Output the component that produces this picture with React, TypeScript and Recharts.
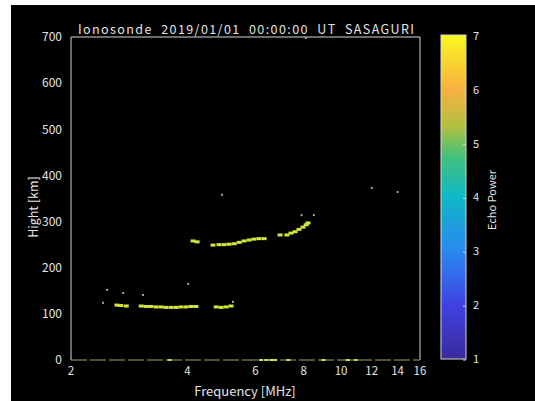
import React from "react";
import { ScatterChart, Scatter, XAxis, YAxis, ReferenceLine } from "recharts";

const FONT = '"Noto Sans CJK JP", "DejaVu Sans", sans-serif';

const freqTicks = [2, 4, 6, 8, 10, 12, 14, 16];
const heightTicks = [0, 100, 200, 300, 400, 500, 600, 700];
const powerTicks = [1, 2, 3, 4, 5, 6, 7];

// E-region echo trace
const eFreq = [2.63, 2.69, 2.78, 3.04, 3.13, 3.22, 3.32, 3.42, 3.52, 3.63, 3.74, 3.85, 3.97, 4.09, 4.21, 4.75, 4.89, 5.04, 5.19];
const eHeight = [119, 118, 117, 117, 116, 116, 115, 115, 114, 114, 114, 115, 115, 116, 116, 115, 114, 115, 117];

// F-region echo trace
const fFreq = [4.14, 4.24, 4.66, 4.83, 4.98, 5.13, 5.29, 5.45, 5.61, 5.78, 5.95, 6.13, 6.32, 6.95, 7.24, 7.42, 7.6, 7.78, 7.97, 8.12, 8.21];
const fHeight = [258, 256, 249, 250, 250, 251, 252, 255, 258, 260, 262, 263, 263, 271, 271, 275, 278, 283, 288, 293, 297];

// isolated weak returns
const noiseFreq = [2.42, 2.48, 2.73, 3.07, 4.02, 5.25, 4.92, 7.9, 8.5, 12.0, 14.0, 8.1];
const noiseHeight = [124, 152, 145, 141, 165, 126, 358, 314, 314, 373, 364, 698];

// ground-level returns
const groundFreq = [3.6, 6.2, 6.4, 6.6, 6.75, 7.3, 9.0, 10.4, 10.9];
const groundHeight = [0, 0, 0, 0, 0, 0, 0, 0, 0];

const zip = (fs: number[], hs: number[]) => fs.map((f, i) => ({ f, h: hs[i] }));

const eData = zip(eFreq, eHeight);
const fData = zip(fFreq, fHeight);
const noiseData = zip(noiseFreq, noiseHeight);
const groundData = zip(groundFreq, groundHeight);

// colour scale for the echo power bar
const scaleStops = [
  { t: 0, c: "#3a2a9c" },
  { t: 0.17, c: "#3f42e4" },
  { t: 0.33, c: "#2a88f0" },
  { t: 0.5, c: "#10b8c8" },
  { t: 0.62, c: "#40c080" },
  { t: 0.72, c: "#b2c040" },
  { t: 0.83, c: "#f8b040" },
  { t: 1, c: "#f8f820" },
];

const echoShape = (props: any) => (
  <rect x={props.cx - 2.5} y={props.cy - 1.5} width={5} height={3} fill="#d4e63c" />
);
const noiseShape = (props: any) => (
  <rect x={props.cx - 1} y={props.cy - 1} width={2} height={2} fill="#a8a8a8" />
);
const groundShape = (props: any) => (
  <rect x={props.cx - 2} y={props.cy - 1} width={4} height={2} fill="#d0dc50" />
);

const textColor = "#e4e4e4";
const frameColor = "#d6d6d6";

function ColorBar() {
  const top = 30;
  const bottom = 354;
  const tickTop = 32;
  const tickBottom = 355;
  const tickY = (v: number) => tickBottom - ((v - 1) / 6) * (tickBottom - tickTop);
  return (
    <svg
      width={524}
      height={396}
      style={{ position: "absolute", left: 0, top: 0, pointerEvents: "none" }}
    >
      <defs>
        <linearGradient id="echoScale" x1="0" y1="1" x2="0" y2="0">
          {scaleStops.map((s) => (
            <stop key={s.t} offset={s.t} stopColor={s.c} />
          ))}
        </linearGradient>
      </defs>
      <text
        x={67}
        y={29}
        fill={textColor}
        fontSize={12.5}
        fontFamily={FONT}
        textLength={336}
        lengthAdjust="spacing"
        style={{ whiteSpace: "pre" }}
      >
        {"Ionosonde  2019/01/01  00:00:00  UT  SASAGURI"}
      </text>
      <text
        x={0}
        y={0}
        transform="translate(27 202) rotate(-90)"
        textAnchor="middle"
        fill={textColor}
        fontSize={12.5}
        fontFamily={FONT}
      >
        Hight [km]
      </text>
      <text x={234} y={391} textAnchor="middle" fill={textColor} fontSize={13} fontFamily={FONT}>
        Frequency [MHz]
      </text>
      <rect x={430} y={top} width={25} height={bottom - top} fill="url(#echoScale)" stroke={frameColor} strokeWidth={1} />
      {powerTicks.map((v) => (
        <g key={v}>
          <line x1={452} x2={455} y1={tickY(v)} y2={tickY(v)} stroke={frameColor} />
          <text
            x={462}
            y={tickY(v)}
            dominantBaseline="middle"
            fill={textColor}
            fontSize={11}
            fontFamily={FONT}
          >
            {v}
          </text>
        </g>
      ))}
      <text
        x={0}
        y={0}
        transform="translate(485 195) rotate(-90)"
        textAnchor="middle"
        fill={textColor}
        fontSize={11}
        fontFamily={FONT}
      >
        Echo Power
      </text>
    </svg>
  );
}

export default function App() {
  return (
    <div
      style={{
        position: "absolute",
        left: 11,
        top: 5,
        width: 524,
        height: 396,
        background: "#000",
        fontFamily: FONT,
      }}
    >
      <ScatterChart width={524} height={396} margin={{ top: 32, right: 115, bottom: 0, left: 15 }}>
        <XAxis
          type="number"
          dataKey="f"
          scale="log"
          domain={[2, 16]}
          ticks={freqTicks}
          allowDataOverflow
          height={41}
          tickLine={false}
          tickMargin={1}
          axisLine={{ stroke: "#a4a460", strokeDasharray: "16 3" }}
          tick={{ fill: textColor, fontSize: 11.5, fontFamily: FONT }}
        />
        <YAxis
          type="number"
          dataKey="h"
          domain={[0, 700]}
          ticks={heightTicks}
          width={45}
          tickLine={false}
          tickSize={0}
          tickMargin={9}
          axisLine={{ stroke: frameColor }}
          tick={{ fill: textColor, fontSize: 12, fontFamily: FONT }}
        />
        <ReferenceLine y={700} stroke={frameColor} />
        <ReferenceLine x={16} stroke={frameColor} />
        <Scatter data={groundData} shape={groundShape} isAnimationActive={false} />
        <Scatter data={noiseData} shape={noiseShape} isAnimationActive={false} />
        <Scatter data={eData} shape={echoShape} isAnimationActive={false} />
        <Scatter data={fData} shape={echoShape} isAnimationActive={false} />
      </ScatterChart>
      <ColorBar />
    </div>
  );
}
